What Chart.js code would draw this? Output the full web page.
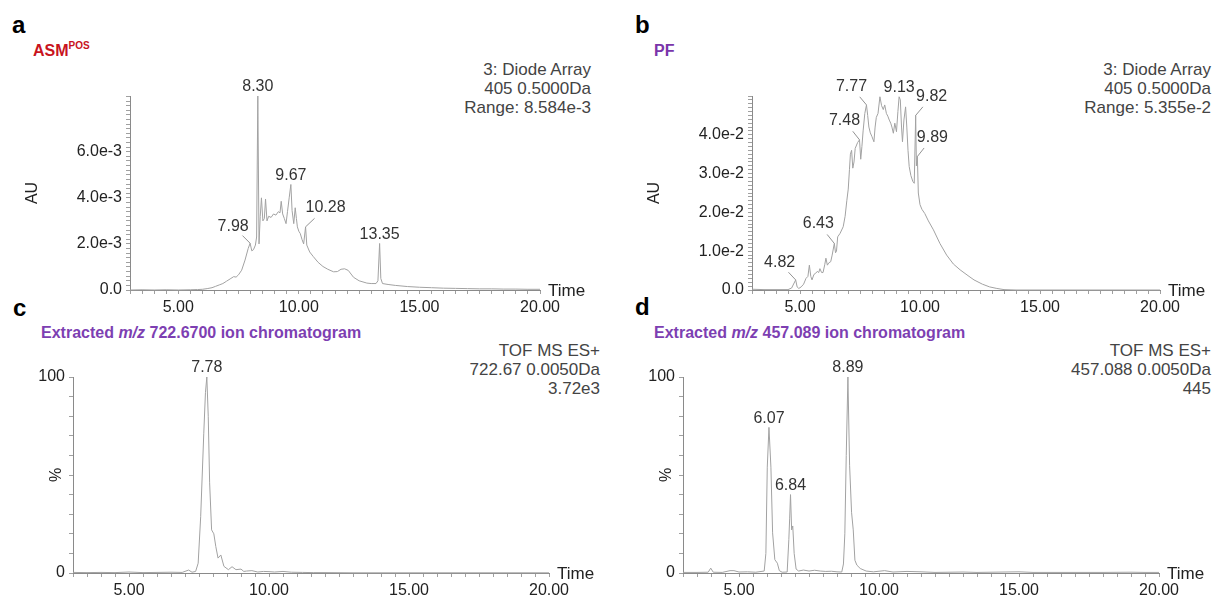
<!DOCTYPE html>
<html>
<head>
<meta charset="utf-8">
<script src="https://cdn.jsdelivr.net/npm/chart.js@4.4.1/dist/chart.umd.min.js"></script>
<style>
  body { margin: 0; width: 1214px; height: 601px; background: #fff; position: relative; overflow: hidden;
         font-family: "Liberation Sans", Arial, sans-serif; }
  canvas { position: absolute; }
  .lt { position: absolute; font-weight: bold; font-size: 24px; line-height: 24px; color: #000; }
  .sub { position: absolute; font-weight: bold; font-size: 16px; line-height: 16px; white-space: nowrap; }
  .info { position: absolute; text-align: right; font-size: 17px; line-height: 19px; color: #444; white-space: nowrap; }
</style>
</head>
<body>

<div class="lt" style="left:12px;top:13px">a</div>
<div class="sub" style="left:33px;top:43px;color:#c8141e">ASM<span style="font-size:10px;position:relative;top:-7px">POS</span></div>
<div class="info" style="right:623px;top:60px">3: Diode Array<br>405 0.5000Da<br>Range: 8.584e-3</div>

<div class="lt" style="left:635px;top:13px">b</div>
<div class="sub" style="left:654px;top:43px;color:#7a35aa">PF</div>
<div class="info" style="right:3px;top:60px">3: Diode Array<br>405 0.5000Da<br>Range: 5.355e-2</div>

<div class="lt" style="left:13px;top:296px">c</div>
<div class="sub" style="left:41px;top:325px;color:#7d3fb2">Extracted <i>m/z</i> 722.6700 ion chromatogram</div>
<div class="info" style="right:614px;top:341px">TOF MS ES+<br>722.67 0.0050Da<br>3.72e3</div>

<div class="lt" style="left:635px;top:295px">d</div>
<div class="sub" style="left:654px;top:325px;color:#7d3fb2">Extracted <i>m/z</i> 457.089 ion chromatogram</div>
<div class="info" style="right:3px;top:341px">TOF MS ES+<br>457.088 0.0050Da<br>445</div>

<canvas id="chartA" width="607" height="322" style="left:0;top:0"></canvas>
<canvas id="chartB" width="607" height="322" style="left:607px;top:0"></canvas>
<canvas id="chartC" width="607" height="279" style="left:0;top:322px"></canvas>
<canvas id="chartD" width="607" height="279" style="left:607px;top:322px"></canvas>

<script>
// ---- data ----
// time axis (min) shared by all panels
const timeLabelValues = [5, 10, 15, 20];
const timeLabels = ['5.00', '10.00', '15.00', '20.00'];

// a: ASM POS, diode array, AU in units of 1e-3
const timeA = [3.0,3.5,4.0,4.5,5.0,5.5,5.8,6.0,6.2,6.4,
  6.55,6.7,6.85,7.0,7.15,7.3,7.4,7.5,7.63,7.77,
  7.9,7.98,8.05,8.12,8.2,8.25,8.30,8.35,8.40,8.45,
  8.51,8.57,8.62,8.68,8.75,8.85,8.95,9.05,9.15,9.22,
  9.27,9.33,9.40,9.47,9.53,9.60,9.67,9.72,9.79,9.85,
  9.90,9.94,10.0,10.06,10.13,10.20,10.28,10.33,10.45,10.6,
  10.8,11.0,11.2,11.44,11.6,11.75,11.9,12.05,12.27,12.5,
  12.82,13.0,13.2,13.28,13.35,13.40,13.47,13.7,14.0,14.5,
  15.0,15.5,16.0,16.5,17.0,17.5,18.0,18.5,19.0,19.5,20.0];
const auA = [0.00,0.01,0.00,0.01,0.00,0.01,0.02,0.03,0.06,0.10,
  0.16,0.22,0.28,0.38,0.48,0.58,0.56,0.66,0.86,1.30,
  1.80,2.03,1.70,1.75,1.95,2.30,8.42,2.00,3.20,4.00,
  3.00,3.10,3.95,3.00,3.20,3.15,3.30,3.25,3.40,3.35,
  3.85,3.30,3.10,2.88,3.40,4.00,4.58,3.45,2.88,3.57,
  3.10,2.74,2.55,2.45,2.20,2.00,2.74,1.95,1.65,1.45,
  1.20,1.02,0.90,0.79,0.80,0.90,0.92,0.85,0.55,0.40,
  0.30,0.28,0.28,0.40,2.02,0.50,0.28,0.24,0.20,0.15,
  0.12,0.10,0.08,0.07,0.06,0.05,0.05,0.04,0.04,0.03,0.03];
const peaksA = [7.98, 8.30, 9.67, 10.28, 13.35];
const yLabelValuesA = [0, 2, 4, 6];
const yLabelsA = ['0.0', '2.0e-3', '4.0e-3', '6.0e-3'];

// b: PF, diode array, AU in units of 1e-2
const timeB = [3.0,3.5,4.0,4.5,4.65,4.82,4.88,4.95,5.05,5.15,
  5.25,5.33,5.39,5.45,5.50,5.58,5.65,5.72,5.78,5.83,
  5.90,5.96,6.03,6.08,6.14,6.20,6.28,6.34,6.43,6.48,
  6.52,6.57,6.67,6.80,6.88,6.95,7.01,7.06,7.10,7.15,
  7.20,7.25,7.30,7.40,7.48,7.53,7.58,7.63,7.70,7.77,
  7.82,7.87,7.93,8.00,8.08,8.13,8.18,8.25,8.33,8.40,
  8.47,8.53,8.60,8.66,8.72,8.78,8.83,8.89,8.95,9.02,
  9.08,9.13,9.18,9.23,9.27,9.33,9.40,9.45,9.50,9.55,
  9.62,9.70,9.76,9.82,9.85,9.89,9.93,10.00,10.08,10.20,
  10.35,10.56,10.83,11.11,11.39,11.67,12.00,12.25,12.60,12.90,
  13.20,13.50,14.00,15.00,16.00,17.00,18.00,19.00,20.00];
const auB = [0.02,0.01,0.01,0.01,0.05,0.26,0.08,0.04,0.08,0.15,
  0.30,0.35,0.64,0.35,0.26,0.40,0.43,0.48,0.45,0.55,
  0.45,0.45,0.65,0.82,0.64,0.70,0.73,0.90,1.20,0.96,
  1.00,1.37,1.46,1.63,1.90,2.30,2.60,3.10,3.50,3.60,
  3.14,3.30,3.65,3.80,3.87,3.37,3.70,4.10,4.55,4.77,
  4.50,4.20,4.05,3.95,3.82,4.20,4.45,4.55,4.98,4.75,
  4.65,4.77,4.55,4.48,4.38,4.30,4.20,4.04,4.30,4.08,
  4.60,4.98,4.90,4.20,3.82,4.38,4.72,4.20,3.60,3.18,
  2.95,2.80,2.75,4.50,3.20,3.44,2.50,2.20,2.08,1.97,
  1.78,1.55,1.20,0.90,0.67,0.52,0.37,0.26,0.15,0.08,
  0.04,0.01,0.00,0.00,0.00,0.00,0.00,0.00,0.00];
const peaksB = [4.82, 6.43, 7.48, 7.77, 9.13, 9.82, 9.89];
const yLabelValuesB = [0, 1, 2, 3, 4];
const yLabelsB = ['0.0', '1.0e-2', '2.0e-2', '3.0e-2', '4.0e-2'];

// c: extracted m/z 722.6700, relative %
const timeC = [3.0,3.5,4.0,4.5,5.0,5.5,6.0,6.5,6.9,7.13,
  7.25,7.38,7.47,7.56,7.67,7.73,7.78,7.83,7.88,7.95,
  8.03,8.10,8.18,8.28,8.39,8.55,8.68,8.82,9.00,9.10,
  9.20,9.39,9.60,9.80,10.00,10.20,10.50,10.80,11.20,11.60,
  12.00,13.00,14.00,15.00,16.00,17.00,18.00,19.00,20.00];
const pctC = [0.3,0.2,0.3,0.2,0.5,0.2,0.3,0.4,0.3,1.5,
  0.4,0.8,5.0,28.7,71,92,100,80,46,22,
  20,13.5,7.6,9.2,3.4,1.7,3.2,1.7,2.0,0.8,
  1.0,1.2,0.5,0.8,0.7,0.5,0.8,0.4,0.3,0.2,
  0.2,0.1,0.1,0.1,0.1,0.1,0.1,0.1,0.1];
const peaksC = [7.78];

// d: extracted m/z 457.089, relative %
const timeD = [3.0,3.5,3.9,3.99,4.08,4.4,4.68,4.82,5.0,5.3,
  5.6,5.9,5.96,6.01,6.07,6.14,6.20,6.28,6.37,6.44,
  6.54,6.72,6.78,6.81,6.84,6.88,6.92,6.97,7.04,7.13,
  7.30,7.50,7.70,7.90,8.10,8.30,8.50,8.67,8.73,8.78,
  8.83,8.89,8.95,9.02,9.08,9.14,9.21,9.33,9.54,9.80,
  10.20,10.50,11.00,11.50,12.00,12.50,13.00,13.50,14.00,15.00,
  15.50,16.00,17.00,18.00,19.00,19.50,20.00];
const pctD = [0.3,0.3,0.4,2.5,0.4,0.3,1.2,1.2,0.5,0.6,
  0.4,1.0,10,54,74.3,54,20.5,6.8,5.0,1.2,
  0.4,0.5,17,28,40,22,24,10,2.0,1.0,
  1.5,1.0,1.4,1.0,0.8,0.9,0.6,0.5,4.6,20,
  60,100,55,31,22,6.5,4.0,2.3,1.0,0.6,
  1.2,0.5,0.8,0.6,0.3,0.4,0.5,0.3,0.4,0.6,
  0.3,0.3,0.3,0.3,0.4,0.3,0.3];
const peaksD = [6.07, 6.84, 8.89];
const yLabelValuesPct = [0, 100];
const yLabelsPct = ['0', '100'];

// ---- drawing ----
const FONT = '"Liberation Sans", Arial, sans-serif';

function stepTicks(min, max, step) {
  const out = [];
  const n = Math.round((max - min) / step);
  for (let i = 0; i <= n; i++) out.push({ value: +(min + i * step).toFixed(6) });
  return out;
}

function labelFor(v, values, labels) {
  const i = values.findIndex(x => Math.abs(x - v) < 1e-6);
  return i < 0 ? '' : labels[i];
}

function buildPanel(id, p) {
  const points = p.times.map((t, i) => ({ x: t, y: p.values[i] }));

  const textPlugin = {
    id: 'text_' + id,
    afterDatasetsDraw(chart) {
      const ctx = chart.ctx, xs = chart.scales.x, ys = chart.scales.y, area = chart.chartArea;
      ctx.save();
      ctx.font = '16px ' + FONT;
      ctx.fillStyle = '#333';
      ctx.strokeStyle = '#777';
      ctx.lineWidth = 0.8;
      p.peaks.forEach((t, k) => {
        const i = p.times.indexOf(t);
        const px = xs.getPixelForValue(t), py = ys.getPixelForValue(p.values[i]);
        const off = p.offsets[k];
        ctx.textAlign = 'center';
        if (off[0] === 0 && off[1] === 0) {
          ctx.textBaseline = 'bottom';
          ctx.fillText(t.toFixed(2), px, py - 1);
        } else {
          ctx.beginPath();
          ctx.moveTo(px, py);
          ctx.lineTo(px + off[0] * 0.45, py + off[1] * 0.45);
          ctx.stroke();
          ctx.textBaseline = 'middle';
          ctx.fillText(t.toFixed(2), px + off[0], py + off[1]);
        }
      });
      // axis end label
      ctx.fillStyle = '#222';
      ctx.font = '17px ' + FONT;
      ctx.textAlign = 'left';
      ctx.textBaseline = 'middle';
      ctx.fillText('Time', area.right + 8, area.bottom + 1);
      // y title
      ctx.font = '16px ' + FONT;
      ctx.translate(area.left + p.yTitleDx, (area.top + area.bottom) / 2);
      ctx.rotate(-Math.PI / 2);
      ctx.textAlign = 'center';
      ctx.fillText(p.yTitle, 0, 0);
      ctx.restore();
    }
  };

  return new Chart(document.getElementById(id), {
    type: 'line',
    data: {
      datasets: [{
        data: points,
        borderColor: '#a2a2a2',
        borderWidth: 1,
        pointRadius: 0,
        tension: 0,
        clip: false
      }]
    },
    options: {
      responsive: false,
      animation: false,
      devicePixelRatio: 1,
      layout: { padding: { left: 0, top: p.padTop, right: p.padRight, bottom: 0 } },
      plugins: { legend: { display: false }, tooltip: { enabled: false } },
      scales: {
        x: {
          type: 'linear', min: 3, max: 20,
          afterFit(s) { s.height = p.xHeight; },
          afterBuildTicks(s) { s.ticks = stepTicks(3, 20, 0.5); },
          grid: { drawOnChartArea: false, tickLength: 4, tickColor: '#a0a0a0' },
          border: { color: '#8a8a8a' },
          ticks: {
            autoSkip: false, maxRotation: 0, minRotation: 0, padding: 4,
            color: '#222', font: { size: 16, family: FONT },
            callback: v => labelFor(v, timeLabelValues, timeLabels)
          }
        },
        y: {
          type: 'linear', min: 0, max: p.yMax,
          afterFit(s) { s.width = p.yWidth; },
          afterBuildTicks(s) { s.ticks = stepTicks(0, p.yTickMax, p.yStep); },
          grid: { drawOnChartArea: false, tickLength: 4, tickColor: '#a0a0a0' },
          border: { color: '#8a8a8a' },
          ticks: {
            autoSkip: false, padding: 4,
            color: '#222', font: { size: 16, family: FONT },
            callback: v => labelFor(v, p.yLabelValues, p.yLabels)
          }
        }
      }
    },
    plugins: [textPlugin]
  });
}

buildPanel('chartA', {
  times: timeA, values: auA, peaks: peaksA,
  offsets: [[-17, -17], [0, 0], [0, 0], [20, -19], [0, 0]],
  yMax: 8.42, yTickMax: 8.4, yStep: 0.2, yLabelValues: yLabelValuesA, yLabels: yLabelsA,
  padTop: 96, padRight: 67, yWidth: 130, xHeight: 32, yTitle: 'AU', yTitleDx: -97
});

buildPanel('chartB', {
  times: timeB, values: auB, peaks: peaksB,
  offsets: [[-16, -17], [-16, -20], [-15, -19], [-15, -18], [0, 0], [16, -19], [15, -19]],
  yMax: 5.0, yTickMax: 5.0, yStep: 0.1, yLabelValues: yLabelValuesB, yLabels: yLabelsB,
  padTop: 96, padRight: 54, yWidth: 145, xHeight: 32, yTitle: 'AU', yTitleDx: -97
});

buildPanel('chartC', {
  times: timeC, values: pctC, peaks: peaksC,
  offsets: [[0, 0]],
  yMax: 100, yTickMax: 100, yStep: 10, yLabelValues: yLabelValuesPct, yLabels: yLabelsPct,
  padTop: 55, padRight: 58, yWidth: 73, xHeight: 28, yTitle: '%', yTitleDx: -16
});

buildPanel('chartD', {
  times: timeD, values: pctD, peaks: peaksD,
  offsets: [[0, 0], [0, 0], [0, 0]],
  yMax: 100, yTickMax: 100, yStep: 10, yLabelValues: yLabelValuesPct, yLabels: yLabelsPct,
  padTop: 55, padRight: 55, yWidth: 76, xHeight: 28, yTitle: '%', yTitleDx: -16
});
</script>
</body>
</html>
